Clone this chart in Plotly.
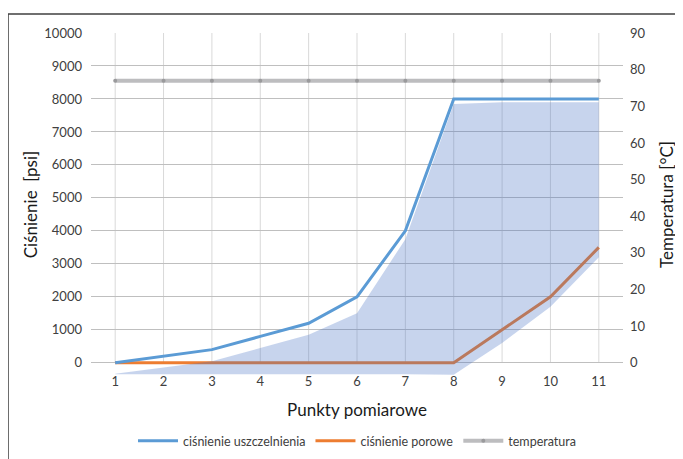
import plotly.graph_objects as go

points = [1, 2, 3, 4, 5, 6, 7, 8, 9, 10, 11]
cisnienie_uszczelnienia = [0, 200, 400, 800, 1200, 2000, 4000, 8000, 8000, 8000, 8000]
cisnienie_porowe = [0, 0, 0, 0, 0, 0, 0, 0, 1000, 2000, 3500]
temperatura = [77, 77, 77, 77, 77, 77, 77, 77, 77, 77, 77]
# shaded band (estimated edges)
band_upper = [-330, -150, 50, 450, 850, 1500, 3750, 7850, 7900, 7900, 7900]
band_lower = [-350, -350, -350, -350, -350, -350, -350, -360, 600, 1700, 3200]
left_ticks = list(range(0, 10001, 1000))
right_ticks = list(range(0, 91, 10))

FONT = "Lato"
TXT = "#404040"

fig = go.Figure()

fig.add_trace(go.Scatter(x=points, y=cisnienie_porowe, name="ciśnienie porowe",
                         mode="lines", line=dict(color="#ED7D31", width=3), legendrank=2))
fig.add_trace(go.Scatter(x=points + points[::-1], y=band_upper + band_lower[::-1],
                         mode="lines", fill="toself", fillcolor="rgba(68,114,196,0.3)",
                         line=dict(width=0), showlegend=False, hoverinfo="skip"))
fig.add_trace(go.Scatter(x=points, y=cisnienie_uszczelnienia, name="ciśnienie uszczelnienia",
                         mode="lines", line=dict(color="#5B9BD5", width=3), legendrank=1))
fig.add_trace(go.Scatter(x=points, y=temperatura, name="temperatura", yaxis="y2",
                         mode="lines+markers", line=dict(color="#BDBDBF", width=4),
                         marker=dict(color="#9A9A9C", size=4), legendrank=3))

for p in points:
    fig.add_shape(type="line", xref="x", yref="y", x0=p, x1=p, y0=0, y1=10000,
                  line=dict(color="#D9D9D9", width=1), layer="below")

# outer border (top and left visible)
fig.add_shape(type="rect", xref="paper", yref="paper", x0=-0.156, x1=1.3, y0=-0.4, y1=1.0554,
              line=dict(color="#404040", width=1.5), layer="below")

# page body adds an 8px offset; compensate in margins
fig.update_layout(
    width=683, height=459,
    margin=dict(l=83, r=68, t=25, b=91, autoexpand=False),
    paper_bgcolor="white", plot_bgcolor="white",
    font=dict(family=FONT, color=TXT, size=13),
    xaxis=dict(range=[0.5, 11.5], tickvals=points, ticktext=[str(p) for p in points],
               showgrid=False, zeroline=False, showline=False, ticks="", automargin=False,
               ticklabelstandoff=-4,
               title=dict(text="Punkty pomiarowe", font=dict(size=17, color="#1a1a1a"), standoff=16)),
    yaxis=dict(range=[-400, 10000], tickvals=left_ticks, ticktext=[str(v) for v in left_ticks],
               showgrid=True, gridcolor="#BFBFBF", automargin=False, ticklabelstandoff=8,
               gridwidth=1, zeroline=False, showline=False, ticks="",
               title=dict(text="Ciśnienie  [psi]", font=dict(size=17, color="#1a1a1a"), standoff=2)),
    yaxis2=dict(range=[-3.6, 90], tickvals=right_ticks, overlaying="y", side="right",
                showgrid=False, zeroline=False, showline=False, ticks="", automargin=False,
                ticklabelstandoff=6,
                title=dict(text="Temperatura [°C]", font=dict(size=17, color="#1a1a1a"), standoff=16)),
    legend=dict(orientation="h", x=0.5, xanchor="center", y=-0.19, yanchor="middle",
                font=dict(size=12.5, color=TXT), traceorder="normal", itemwidth=40,
                entrywidth=0),
    showlegend=True,
)

fig.write_html("out.html")
